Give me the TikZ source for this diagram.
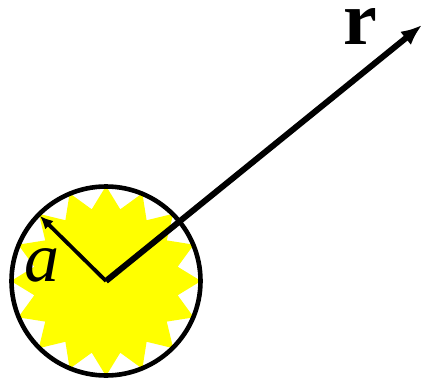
\documentclass[tikz,border=0pt]{standalone}
\usepackage{fontspec}
\setmainfont{Liberation Serif}
\usepackage{tikz}
\usetikzlibrary{shapes.geometric, arrows.meta, positioning}
\definecolor{sunyellow}{RGB}{255,255,0}

\begin{document}
\begin{tikzpicture}[
    x=1pt, y=-1pt,
    ball/.style={circle, draw=black, line width=4.6pt, minimum size=189pt, inner sep=0pt},
    glow/.style={star, star points=16, star point ratio=1.3, fill=sunyellow,
                 minimum size=190pt, inner sep=0pt},
    bigarrow/.style={-{Latex[length=21pt,width=17pt]}, line width=6pt},
    radarrow/.style={-{Latex[length=13pt,width=12pt]}, line width=3.8pt},
    lbl/.style={inner sep=0pt, anchor=base}
]
\useasboundingbox (0,0) rectangle (427,382);
\coordinate (ctr) at (106,281);
\node[glow] (sun) at (ctr) {};
\node[ball] (sphere) at (ctr) {};
\coordinate (rtip) at (422,25);
\coordinate (atip) at (40,216);
\draw[radarrow] (ctr) -- (atip);
\draw[bigarrow] (ctr) -- (rtip);
\node[lbl] (alabel) at (42,281) {\fontsize{70}{70}\selectfont\itshape a};
\node[lbl] (rlabel) at (360,45) {\fontsize{76}{76}\selectfont\bfseries r};
\end{tikzpicture}
\end{document}
